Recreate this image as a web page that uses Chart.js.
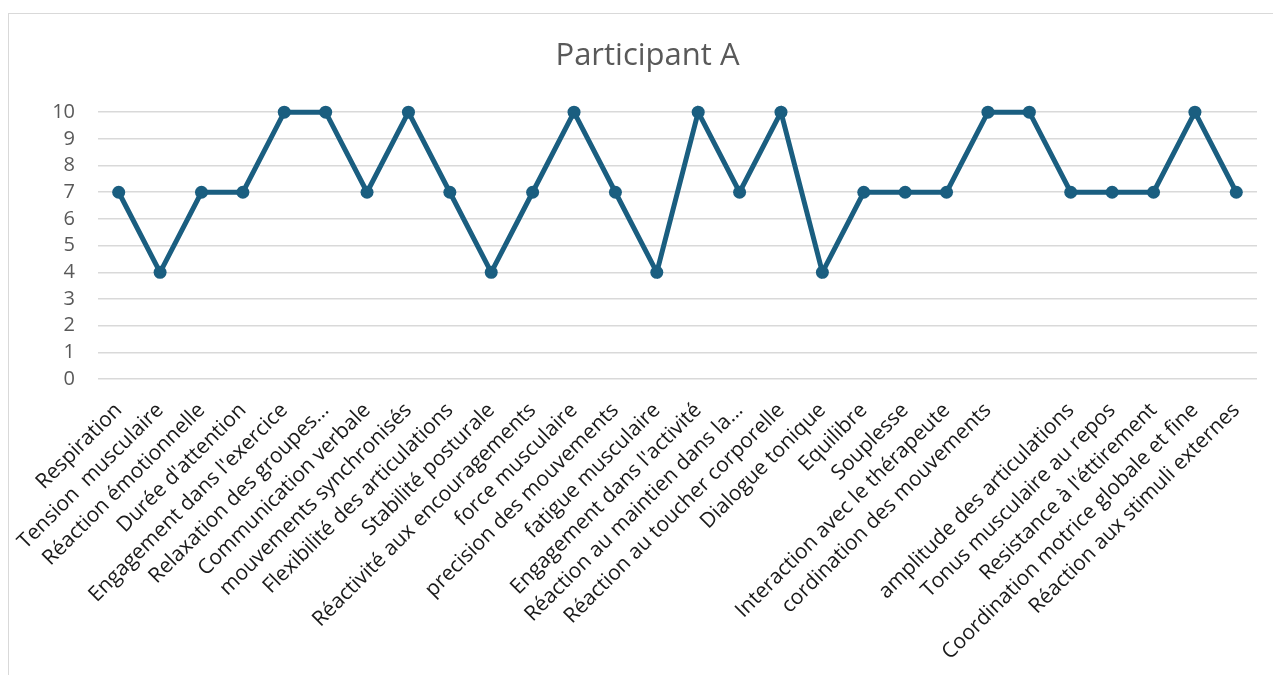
<!DOCTYPE html>
<html>
<head>
<meta charset="utf-8">
<script src="https://cdn.jsdelivr.net/npm/chart.js@4"></script>
<style>
  body { margin: 0; background: #fff; overflow: hidden; }
  #wrap { position: relative; width: 1273px; height: 675px; }
  #frame {
    position: absolute; left: 8px; top: 13px; width: 1300px; height: 700px;
    border: 1px solid #d9d9d9; box-sizing: border-box;
  }
  canvas { position: absolute; left: 0; top: 0; }
</style>
</head>
<body>
<div id="wrap">
  <div id="frame"></div>
  <canvas id="chart" width="1273" height="675"></canvas>
</div>
<script>
// Criteria (x axis) - index 22 has no label in the source
const criteria = [
    'Respiration',
    'Tension  musculaire',
    'Réaction émotionnelle',
    "Durée d'attention",
    "Engagement dans l'exercice",
    'Relaxation des groupes…',
    'Communication verbale',
    'mouvements synchronisés',
    'Flexibilité des articulations',
    'Stabilité posturale',
    'Réactivité aux encouragements',
    'force musculaire',
    'precision des mouvements',
    'fatigue musculaire',
    "Engagement dans l'activité",
    'Réaction au maintien dans la…',
    'Réaction au toucher corporelle',
    'Dialogue tonique',
    'Equilibre',
    'Souplesse',
    'Interaction avec le thérapeute',
    'cordination des mouvements',
    '',
    'amplitude des articulations',
    'Tonus musculaire au repos',
    "Resistance à l'éttirement",
    'Coordination motrice globale et fine',
    'Réaction aux stimuli externes'
];

// Scores for Participant A
const scores = [7, 4, 7, 7, 10, 10, 7, 10, 7, 4, 7, 10, 7, 4, 10, 7, 10, 4, 7, 7, 7, 10, 10, 7, 7, 7, 10, 7];

const yTicks = [0, 1, 2, 3, 4, 5, 6, 7, 8, 9, 10];

const lineColor = '#1a5e80';

Chart.defaults.font.family = '"Open Sans", "Liberation Sans", sans-serif';

new Chart(document.getElementById('chart'), {
    type: 'line',
    data: {
        labels: criteria,
        datasets: [{
            label: 'Participant A',
            data: scores,
            borderColor: lineColor,
            backgroundColor: lineColor,
            borderWidth: 5,
            pointRadius: 6.5,
            pointHoverRadius: 6.5,
            pointBorderWidth: 0,
            tension: 0,
            clip: false
        }]
    },
    options: {
        responsive: false,
        animation: false,
        layout: {
            padding: { left: 38, right: 16, top: 0, bottom: 0 }
        },
        plugins: {
            legend: { display: false },
            tooltip: { enabled: false },
            title: {
                display: true,
                text: 'Participant A',
                color: '#595959',
                font: { size: 31, weight: 'normal' },
                padding: { top: 38, bottom: 37 }
            }
        },
        scales: {
            x: {
                offset: true,
                grid: { display: false },
                border: { display: false },
                ticks: {
                    autoSkip: false,
                    minRotation: 45,
                    maxRotation: 45,
                    padding: 11,
                    color: '#1a1a1a',
                    font: { size: 21 }
                },
                afterFit: function(scale) {
                    scale.height = 296;
                }
            },
            y: {
                min: 0,
                max: 10,
                afterBuildTicks: function(scale) {
                    scale.ticks = yTicks.map(v => ({ value: v }));
                },
                grid: {
                    color: '#d9d9d9',
                    lineWidth: 1.5,
                    drawTicks: false
                },
                border: { display: false },
                ticks: {
                    autoSkip: false,
                    padding: 23,
                    color: '#595959',
                    font: { size: 20 }
                },
                afterFit: function(scale) {
                    scale.width = 60;
                }
            }
        }
    }
});
</script>
</body>
</html>
